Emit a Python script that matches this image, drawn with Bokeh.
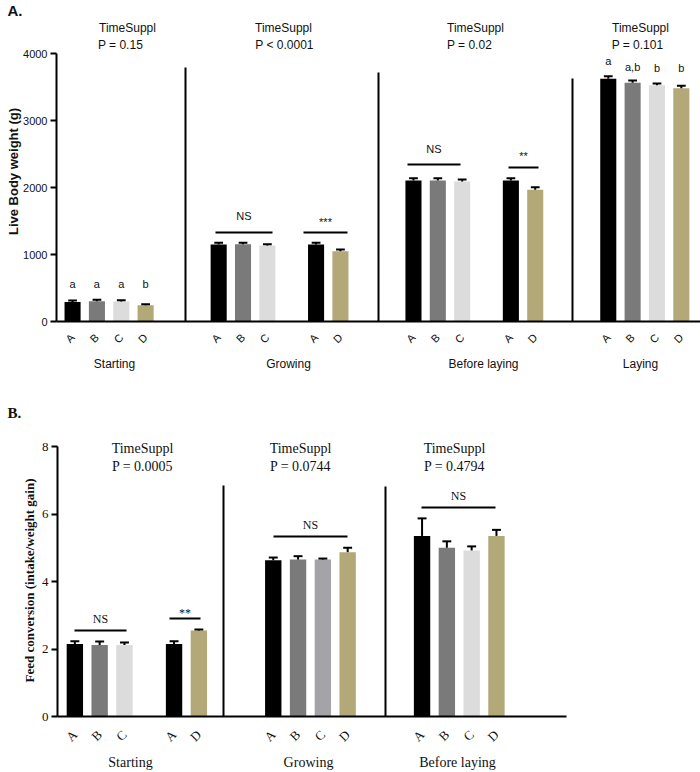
import math
from bokeh.plotting import figure
from bokeh.models import (LinearAxis, FixedTicker, Range1d,
                          CustomJSTickFormatter)
from bokeh.layouts import column
from bokeh.embed import file_html
from bokeh.resources import INLINE
from bokeh.core.properties import value

# ---------------- Panel A data (Live body weight, g) ----------------
a_groups = ["Starting", "Growing", "Before laying", "Laying"]
a_bar_labels = [[["A", "B", "C", "D"]],
                [["A", "B", "C"], ["A", "D"]],
                [["A", "B", "C"], ["A", "D"]],
                [["A", "B", "C", "D"]]]
a_means = [290, 303, 298, 242,
           1150, 1152, 1134, 1150, 1050,
           2104, 2104, 2090, 2104, 1966,
           3622, 3562, 3527, 3482]
a_errs = [22, 20, 20, 15,
          24, 22, 19, 24, 25,
          35, 35, 29, 35, 38,
          38, 35, 25, 35]
a_stat_title = ["TimeSuppl", "TimeSuppl", "TimeSuppl", "TimeSuppl"]
a_pvalues = ["P = 0.15", "P < 0.0001", "P = 0.02", "P = 0.101"]
a_letters_starting = ["a", "a", "a", "b"]
a_letters_laying = ["a", "a,b", "b", "b"]
a_sig_text = ["NS", "***", "NS", "**"]
a_yticks = [0, 1000, 2000, 3000, 4000]

# ---------------- Panel B data (Feed conversion) ----------------
b_groups = ["Starting", "Growing", "Before laying"]
b_bar_labels = [[["A", "B", "C"], ["A", "D"]],
                [["A", "B", "C", "D"]],
                [["A", "B", "C", "D"]]]
b_means = [2.15, 2.12, 2.12, 2.15, 2.55,
           4.63, 4.65, 4.65, 4.87,
           5.35, 5.00, 4.92, 5.35]
b_errs = [0.08, 0.10, 0.07, 0.08, 0.03,
          0.08, 0.10, 0.03, 0.13,
          0.52, 0.19, 0.12, 0.18]
b_stat_title = ["TimeSuppl", "TimeSuppl", "TimeSuppl"]
b_pvalues = ["P = 0.0005", "P = 0.0744", "P = 0.4794"]
b_sig_text = ["NS", "**", "NS", "NS"]
b_yticks = [0, 2, 4, 6, 8]

# ---------------- styles ----------------
COLORS = {"A": "#000000", "B": "#7a7a7a", "C": "#dcdcdc", "D": "#b3a877"}
C_DARK = "#a3a3a8"   # panel B, Growing, C
SANS = value("Liberation Sans")
SERIF = value("Liberation Serif")
INK = "#111111"


def positions(nested, start):
    pos, labs, cur = [], [], None
    for g in nested:
        for si, sub in enumerate(g):
            for k, lab in enumerate(sub):
                if cur is None:
                    cur = start
                elif k == 0 and si == 0:
                    cur += 3
                elif k == 0:
                    cur += 2
                else:
                    cur += 1
                pos.append(cur)
                labs.append(lab)
    return pos, labs


class Mapper:
    """page pixel -> data coordinate for a figure covering the page area."""
    def __init__(self, x0px, xunit, y0px, yunit):
        self.x0px, self.xunit, self.y0px, self.yunit = x0px, xunit, y0px, yunit

    def x(self, px):
        return (px - self.x0px) / self.xunit

    def y(self, py):
        return (self.y0px - py) / self.yunit


def base_fig(width, height, m, top_px):
    p = figure(width=width, height=height,
               x_range=Range1d(m.x(0), m.x(width)),
               y_range=Range1d(m.y(top_px + height), m.y(top_px)),
               output_backend="svg", toolbar_location=None,
               x_axis_type=None, y_axis_type=None, min_border=0)
    p.outline_line_color = None
    p.background_fill_color = "white"
    return p


def axes(p, yticks, ybound, xbound, pos, labs, font, ysize, xsize, xstand):
    ya = LinearAxis(ticker=FixedTicker(ticks=yticks), bounds=ybound,
                    fixed_location=0, axis_line_width=2,
                    major_tick_line_width=2, major_tick_out=6,
                    major_tick_in=0, minor_tick_line_color=None,
                    major_label_standoff=3, major_label_text_font=font,
                    major_label_text_font_size=ysize,
                    major_label_text_color=INK)
    p.add_layout(ya, "left")
    xa = LinearAxis(ticker=FixedTicker(ticks=pos), bounds=xbound,
                    fixed_location=0,
                    formatter=CustomJSTickFormatter(args=dict(labs=labs),
                                                    code="return labs[index];"),
                    major_label_orientation=math.pi / 4,
                    major_tick_line_color=None, minor_tick_line_color=None,
                    axis_line_width=2, major_label_standoff=xstand,
                    major_label_text_font=font,
                    major_label_text_font_size=xsize,
                    major_label_text_color=INK)
    p.add_layout(xa, "below")


def bars(p, pos, means, errs, colors, cap):
    p.vbar(x=pos, top=means, bottom=0, width=0.66, fill_color=colors,
           line_color=None)
    tops = [mv + e for mv, e in zip(means, errs)]
    p.segment(x0=pos, y0=means, x1=pos, y1=tops, line_color="black",
              line_width=2)
    p.segment(x0=[x - cap for x in pos], y0=tops, x1=[x + cap for x in pos],
              y1=tops, line_color="black", line_width=2)


def txt(p, xs, ys, texts, font, size, style="normal", angle=0.0,
        align="center"):
    p.text(x=xs, y=ys, text=texts, text_font=font, text_font_size=size,
           text_font_style=style, text_align=align, text_baseline="middle",
           text_color=INK, angle=angle)


# ================= Panel A =================
ma = Mapper(56, 24.35, 321, 268 / 4000.0)
pa_pos, pa_labs = positions(a_bar_labels, 0.66)
pa = base_fig(700, 384, ma, 0)
bars(pa, pa_pos, a_means, a_errs, [COLORS[l] for l in pa_labs], 0.18)
axes(pa, a_yticks, (0, 4000), (0, ma.x(700)), pa_pos, pa_labs,
     "Liberation Sans", "11px", "11px", 8)

# group separators
sep_ax = [ma.x(185), ma.x(378), ma.x(572)]
sep_ay = [ma.y(67), ma.y(72), ma.y(78)]
pa.segment(x0=sep_ax, y0=[0] * 3, x1=sep_ax, y1=sep_ay, line_color="black",
           line_width=2)

txt(pa, [ma.x(127), ma.x(283), ma.x(475), ma.x(640)], [ma.y(27)] * 4,
    a_stat_title, SANS, "12px")
txt(pa, [ma.x(120), ma.x(284), ma.x(469), ma.x(637)], [ma.y(44)] * 4,
    a_pvalues, SANS, "12px")
txt(pa, pa_pos[0:4], [ma.y(283)] * 4, a_letters_starting, SANS, "11px")
txt(pa, pa_pos[14:18], [ma.y(60), ma.y(66), ma.y(67), ma.y(67)],
    a_letters_laying, SANS, "11px")
# significance lines
a_sig_x0 = [ma.x(215), ma.x(303), ma.x(407), ma.x(508)]
a_sig_x1 = [ma.x(272), ma.x(347), ma.x(460), ma.x(538)]
a_sig_y = [ma.y(232), ma.y(232), ma.y(164), ma.y(167)]
a_sig_ty = [ma.y(215), ma.y(221), ma.y(148), ma.y(155)]
pa.segment(x0=a_sig_x0, y0=a_sig_y, x1=a_sig_x1, y1=a_sig_y,
           line_color="black", line_width=2)
txt(pa, [(a + b) / 2 for a, b in zip(a_sig_x0, a_sig_x1)], a_sig_ty,
    a_sig_text, SANS, "11px")
# category labels under the axis
txt(pa, [ma.x(114), ma.x(288), ma.x(483), ma.x(640)], [ma.y(363)] * 4,
    a_groups, SANS, "12px")
# y-axis title and panel letter
txt(pa, [ma.x(13)], [ma.y(171)], ["Live Body weight (g)"], SANS, "13px",
    style="bold", angle=math.pi / 2)
txt(pa, [ma.x(7)], [ma.y(10)], ["A."], SANS, "15px", style="bold",
    align="left")

# ================= Panel B =================
mb = Mapper(57, 24.8, 716, 33.75)
pb_pos, pb_labs = positions(b_bar_labels, 0.7)
pb = base_fig(700, 388, mb, 384)
b_colors = [COLORS[l] for l in pb_labs]
b_colors[7] = C_DARK
bars(pb, pb_pos, b_means, b_errs, b_colors, 0.18)
axes(pb, b_yticks, (0, 8), (0, mb.x(566)), pb_pos, pb_labs,
     "Liberation Serif", "13px", "13px", 10)

sep_bx = [mb.x(223), mb.x(385)]
pb.segment(x0=sep_bx, y0=[0, 0], x1=sep_bx, y1=[mb.y(485), mb.y(486)],
           line_color="black", line_width=2)
txt(pb, [mb.x(142), mb.x(300), mb.x(454)], [mb.y(448)] * 3, b_stat_title,
    SERIF, "14px")
txt(pb, [mb.x(142), mb.x(300), mb.x(454)], [mb.y(466)] * 3, b_pvalues,
    SERIF, "14px")
b_sig_x0 = [mb.x(74), mb.x(169), mb.x(273), mb.x(421)]
b_sig_x1 = [mb.x(126), mb.x(200), mb.x(347), mb.x(495)]
b_sig_y = [mb.y(630), mb.y(618), mb.y(536), mb.y(507)]
b_sig_ty = [mb.y(618), mb.y(612), mb.y(524), mb.y(495)]
pb.segment(x0=b_sig_x0, y0=b_sig_y, x1=b_sig_x1, y1=b_sig_y,
           line_color="black", line_width=2)
txt(pb, [(a + b) / 2 for a, b in zip(b_sig_x0, b_sig_x1)], b_sig_ty,
    b_sig_text, SERIF, "12px")
txt(pb, [mb.x(130), mb.x(308), mb.x(457)], [mb.y(762)] * 3, b_groups,
    SERIF, "14px")
txt(pb, [mb.x(29)], [mb.y(580)], ["Feed conversion (intake/weight gain)"],
    SERIF, "13px", style="bold", angle=math.pi / 2)
txt(pb, [mb.x(7)], [mb.y(412)], ["B."], SERIF, "15px", style="bold",
    align="left")

layout = column(pa, pb, spacing=0)
open("out.html", "w").write(file_html(layout, INLINE))
